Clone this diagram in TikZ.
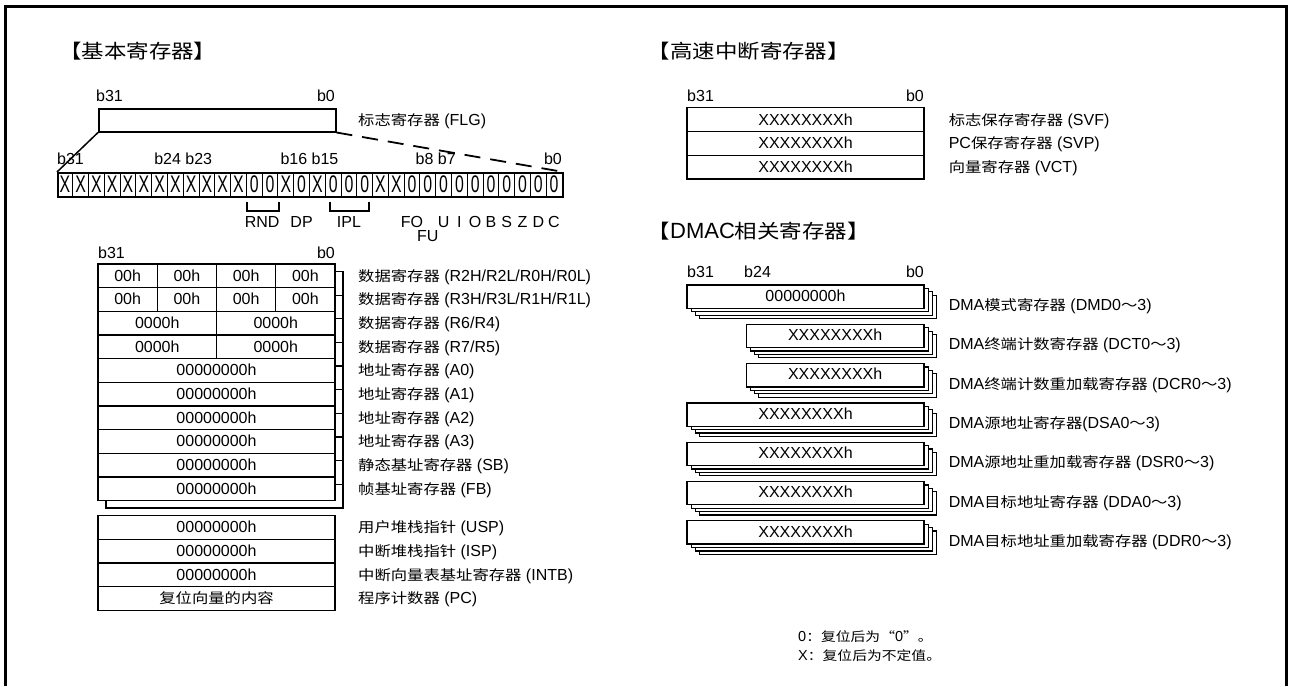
\documentclass[tikz,border=0pt]{standalone}
\usepackage{fontspec}
\setmainfont{Liberation Sans}
\newfontfamily\cjk[Scale=0.88,FakeStretch=1.16]{Noto Sans CJK SC}
\newfontfamily\condfont[FakeStretch=0.66]{Liberation Sans}
\newcommand\zh[1]{{\cjk #1}}
\begin{document}
\begin{tikzpicture}[x=1pt,y=-1pt,
  txt/.style={inner sep=0pt, text height=11pt, text depth=0pt, font=\fontsize{16}{18}\selectfont},
  lab/.style={txt, anchor=west},
  ttl/.style={inner sep=0pt, anchor=west, text height=14pt, text depth=0pt, font=\fontsize{22}{26}\selectfont},
  rbox/.style={draw, line width=1.3pt, fill=white},
  sbox/.style={draw, line width=1.3pt},
  bitc/.style={inner sep=0pt, text height=17pt, text depth=0pt, font=\fontsize{24}{26}\selectfont\condfont},
  legend/.style={inner sep=0pt, anchor=west, text height=10pt, text depth=0pt, font=\fontsize{14.5}{17}\selectfont}
]
\useasboundingbox (0,0) rectangle (1289,686);
% frame
\draw[line width=2.8pt] (5.3,686) -- (5.3,6.2) -- (1286.6,6.2) -- (1286.6,686);

% ===== basic registers =====
\node[ttl] (t1) at (59,51) {\zh{【基本寄存器】}};

\node[txt, anchor=west] (flgb31) at (96,96) {b31};
\node[txt, anchor=east] (flgb0) at (335,96) {b0};
\node[draw, line width=1.5pt, minimum width=237pt, minimum height=23pt, anchor=north west, inner sep=0pt] (flg) at (98,108) {};
\node[lab] (flgl) at (358,120) {\zh{标志寄存器} (FLG)};

% bit row
\node[draw, line width=1.6pt, minimum width=505pt, minimum height=24pt, anchor=north west, inner sep=0pt] (bits) at (57,172) {};
\foreach \i in {1,...,31} \draw[line width=1pt] ({57+\i*15.78125},172) -- ++(0,24);
\foreach \v [count=\i from 0] in {X,X,X,X,X,X,X,X,X,X,X,X,0,0,X,0,X,0,0,0,X,X,0,0,0,0,0,0,0,0,0,0}
  \node[bitc] (c\i) at ({57+(\i+0.5)*15.78125},184) {\v};

\draw[line width=1.5pt] (flg.south west) -- (bits.north west);
\draw[line width=1.8pt, dash pattern=on 16pt off 10pt] (flg.south east) -- (bits.north east);

\node[txt, anchor=west] (lb31) at (57,159) {b31};
\node[txt] (lb24) at (183.2,159) {b24 b23};
\node[txt] (lb16) at (309.5,159) {b16 b15};
\node[txt] (lb8) at (435.75,159) {b8 b7};
\node[txt, anchor=east] (lb0) at (562,159) {b0};

\draw[line width=1.4pt] (247,202) |- (279,211) -- (279,202);
\draw[line width=1.4pt] (330,202) |- (369,211) -- (369,202);

\node[txt] (fRND) at (262.1,222) {RND};
\node[txt] (fDP) at (301.6,222) {DP};
\node[txt] (fIPL) at (348.9,222) {IPL};
\node[txt] (fFO) at (412,222) {FO};
\node[txt] (fFU) at (427.8,236) {FU};
\node[txt] (fU) at (443.6,222) {U};
\node[txt] (fI) at (459.4,222) {I};
\node[txt] (fO) at (475.2,222) {O};
\node[txt] (fB) at (491,222) {B};
\node[txt] (fS) at (506.7,222) {S};
\node[txt] (fZ) at (522.5,222) {Z};
\node[txt] (fD) at (538.3,222) {D};
\node[txt] (fC) at (554,222) {C};

% data / address registers
\node[txt, anchor=west] (rb31) at (98,253) {b31};
\node[txt, anchor=east] (rb0) at (335,253) {b0};
\foreach \i in {0,...,9}
  \draw[sbox] (106,{264+\i*23.65+7.5}) rectangle (343,{264+(\i+1)*23.65+7.5});
\foreach \i in {0,...,9}
  \draw[rbox] (98,{264+\i*23.65}) rectangle (335,{264+(\i+1)*23.65});
\foreach \i in {0,1} \foreach \k in {1,2,3}
  \draw[line width=1.3pt] ({98+59.25*\k},{264+\i*23.65}) -- ++(0,23.65);
\foreach \i in {2,3}
  \draw[line width=1.3pt] (216.5,{264+\i*23.65}) -- ++(0,23.65);
\foreach \i in {0,1} \foreach \k in {0,1,2,3}
  \node[txt] (b\i\k) at ({98+59.25*(\k+0.5)},{264+(\i+0.5)*23.65}) {00h};
\foreach \i in {2,3} \foreach \k in {0,1}
  \node[txt] (w\i\k) at ({98+118.5*(\k+0.5)},{264+(\i+0.5)*23.65}) {0000h};
\foreach \i in {4,...,9}
  \node[txt] (l\i) at (216.5,{264+(\i+0.5)*23.65}) {00000000h};

\node[lab] (r0) at (358,275.83) {\zh{数据寄存器} (R2H/R2L/R0H/R0L)};
\node[lab] (r1) at (358,299.48) {\zh{数据寄存器} (R3H/R3L/R1H/R1L)};
\node[lab] (r2) at (358,323.13) {\zh{数据寄存器} (R6/R4)};
\node[lab] (r3) at (358,346.78) {\zh{数据寄存器} (R7/R5)};
\node[lab] (a0) at (358,370.43) {\zh{地址寄存器} (A0)};
\node[lab] (a1) at (358,394.08) {\zh{地址寄存器} (A1)};
\node[lab] (a2) at (358,417.73) {\zh{地址寄存器} (A2)};
\node[lab] (a3) at (358,441.38) {\zh{地址寄存器} (A3)};
\node[lab] (sb) at (358,465.03) {\zh{静态基址寄存器} (SB)};
\node[lab] (fb) at (358,488.68) {\zh{帧基址寄存器} (FB)};

% pointer registers
\foreach \i in {0,...,3}
  \draw[rbox] (98,{515.5+\i*23.7}) rectangle (335,{515.5+(\i+1)*23.7});
\node[txt] (usp) at (216.5,527.35) {00000000h};
\node[txt] (isp) at (216.5,551.05) {00000000h};
\node[txt] (intb) at (216.5,574.75) {00000000h};
\node[txt] (pc) at (216.5,598.45) {\zh{复位向量的内容}};
\node[lab] (uspl) at (358,527.35) {\zh{用户堆栈指针} (USP)};
\node[lab] (ispl) at (358,551.05) {\zh{中断堆栈指针} (ISP)};
\node[lab] (intbl) at (358,574.75) {\zh{中断向量表基址寄存器} (INTB)};
\node[lab] (pcl) at (358,598.45) {\zh{程序计数器} (PC)};

% ===== high-speed interrupt registers =====
\node[ttl] (t2) at (647.5,51) {\zh{【高速中断寄存器】}};
\node[txt, anchor=west] (hb31) at (687,96) {b31};
\node[txt, anchor=east] (hb0) at (924,96) {b0};
\foreach \i in {0,1,2}
  \draw[rbox] (687,{107.7+\i*23.8}) rectangle (924,{107.7+(\i+1)*23.8});
\node[txt] (svf) at (805.5,119.6) {XXXXXXXXh};
\node[txt] (svp) at (805.5,143.4) {XXXXXXXXh};
\node[txt] (vct) at (805.5,167.2) {XXXXXXXXh};
\node[lab] (svfl) at (948.6,119.6) {\zh{标志保存寄存器} (SVF)};
\node[lab] (svpl) at (948.6,143.4) {PC\zh{保存寄存器} (SVP)};
\node[lab] (vctl) at (948.6,167.2) {\zh{向量寄存器} (VCT)};

% ===== DMAC registers =====
\node[ttl] (t3) at (647.5,231.7) {\zh{【}DMAC\zh{相关寄存器】}};
\node[txt, anchor=west] (db31) at (687,271.7) {b31};
\node[txt, anchor=west] (db24) at (744,271.7) {b24};
\node[txt, anchor=east] (db0) at (924,271.7) {b0};
\foreach \t/\l/\v/\n in {285/687/00000000h/dmd, 324.3/746.25/XXXXXXXXh/dct, 363.6/746.25/XXXXXXXXh/dcr,
    402.9/687/XXXXXXXXh/dsa, 442.2/687/XXXXXXXXh/dsr, 481.5/687/XXXXXXXXh/dda, 520.8/687/XXXXXXXXh/ddr} {
  \foreach \j in {3,2,1}
    \draw[rbox, line width=1.2pt] ({\l+4.1*\j},{\t+3.4*\j}) rectangle ({924+4.1*\j},{\t+23.3+3.4*\j});
  \draw[rbox] (\l,\t) rectangle (924,{\t+23.3});
  \node[txt] (\n) at ({(\l+924)/2},{\t+10.8}) {\v};
}
\node[lab] (dmdl) at (948.6,305) {DMA\zh{模式寄存器} (DMD0\zh{～}3)};
\node[lab] (dctl) at (948.6,344.3) {DMA\zh{终端计数寄存器} (DCT0\zh{～}3)};
\node[lab] (dcrl) at (948.6,383.6) {DMA\zh{终端计数重加载寄存器} (DCR0\zh{～}3)};
\node[lab] (dsal) at (948.6,422.9) {DMA\zh{源地址寄存器}(DSA0\zh{～}3)};
\node[lab] (dsrl) at (948.6,462.2) {DMA\zh{源地址重加载寄存器} (DSR0\zh{～}3)};
\node[lab] (ddal) at (948.6,501.5) {DMA\zh{目标地址寄存器} (DDA0\zh{～}3)};
\node[lab] (ddrl) at (948.6,540.8) {DMA\zh{目标地址重加载寄存器} (DDR0\zh{～}3)};

% legend
\node[legend] (lg0) at (798,636) {0\zh{：复位后为“}0\zh{”。}};
\node[legend] (lgx) at (798,655) {X\zh{：复位后为不定值。}};
\end{tikzpicture}
\end{document}
